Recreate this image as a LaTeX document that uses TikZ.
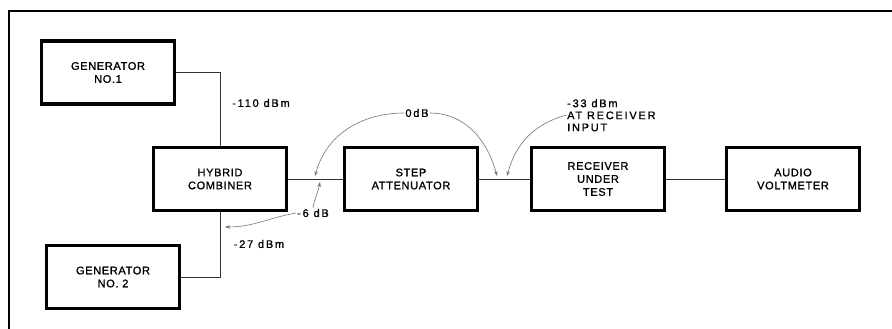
\documentclass[tikz,border=0pt]{standalone}
\usepackage{fontspec}
\setmainfont{Liberation Sans}[LetterSpace=6,FakeBold=1.2]
\newfontfamily\levelfont{Liberation Sans}[LetterSpace=16,FakeBold=1.2]
\usetikzlibrary{arrows.meta,positioning}

\begin{document}
\begin{tikzpicture}[x=1pt,y=-1pt,
    blk/.style={draw=black,line width=3.2pt,minimum width=133pt,minimum height=63pt,
                inner sep=0pt,align=center,font=\fontsize{11}{13}\selectfont},
    lbl/.style={font=\levelfont\fontsize{11}{12}\selectfont,inner sep=1pt},
    wire/.style={line width=1pt,black!80},
    tap/.style={-{Stealth[length=5pt,width=3.5pt]},line width=0.6pt,black!55}]
    \useasboundingbox (0,0) rectangle (892,329);
    \draw[line width=2.8pt] (9,329) -- (9,11) -- (892,11);

    % blocks
    \node[blk] (gen1) at (108,72.5) {GENERATOR\\NO.1};
    \node[blk] (hyb)  at (220,179)  {HYBRID\\COMBINER};
    \node[blk] (step) at (411,179)  {STEP\\ATTENUATOR};
    \node[blk] (rx)   at (598,179)  {RECEIVER\\UNDER\\TEST};
    \node[blk] (volt) at (793,179)  {AUDIO\\VOLTMETER};
    \node[blk] (gen2) at (113,277)  {GENERATOR\\NO. 2};

    % wiring
    \draw[wire] (gen1.east) -| (hyb.north);
    \draw[wire] (hyb.south) |- (gen2.east);
    \draw[wire] (hyb) -- (step);
    \draw[wire] (step) -- (rx);
    \draw[wire] (rx) -- (volt);

    % levels
    \node[lbl] (l110) at (261,103) {-110 dBm};
    \node[lbl] (l27)  at (259,244) {-27 dBm};
    \node[lbl] (l0)   at (417,113) {0dB};
    \node[lbl] (l6)   at (313,213) {-6 dB};
    \node[lbl,align=left,anchor=north west] (l33) at (566,98) {-33 dBm\\AT RECEIVER\\INPUT};

    \coordinate (t0l) at (315,176);
    \coordinate (t0r) at (497,176);
    \coordinate (t33) at (507,176);
    \coordinate (t6u) at (320,182);
    \coordinate (t6l) at (225,227);

    \draw[tap] (l0.west) to[out=180,in=75] (t0l);
    \draw[tap] (l0.east) to[out=0,in=105] (t0r);
    \draw[tap] (l33.west) to[out=195,in=75] (t33);
    \draw[tap] (l6.north) to[out=80,in=-100] (t6u);
    \draw[tap] (l6.west) to[out=190,in=0] (t6l);
\end{tikzpicture}
\end{document}
